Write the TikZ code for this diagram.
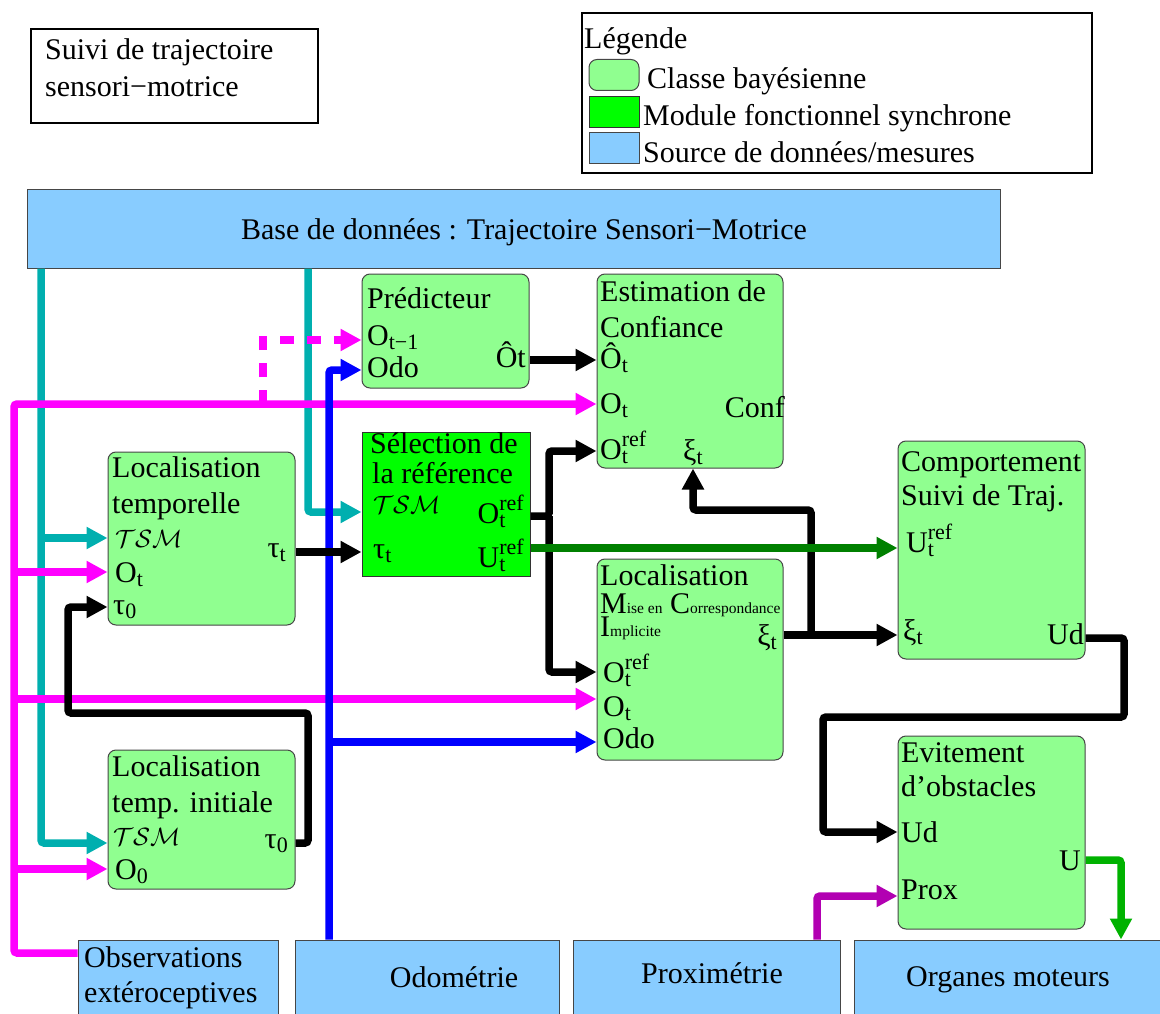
\documentclass[tikz,border=0pt]{standalone}
\usepackage{fix-cm}
\usepackage{fontspec}
\setmainfont{Liberation Serif}
\usetikzlibrary{arrows.meta}
\definecolor{baygreen}{RGB}{144,255,144}
\definecolor{syngreen}{RGB}{0,255,0}
\definecolor{srcblue}{RGB}{136,204,255}
\definecolor{boxline}{RGB}{70,70,70}
\definecolor{tealc}{RGB}{0,175,175}
\definecolor{magc}{RGB}{255,0,255}
\definecolor{bluec}{RGB}{0,0,255}
\definecolor{dgreenc}{RGB}{0,128,0}
\definecolor{greenc}{RGB}{0,178,0}
\definecolor{purpc}{RGB}{178,0,178}
\newcommand\sbx[1]{\raisebox{-4pt}{\fontsize{22}{22}\selectfont #1}}
\newcommand\sbsup[2]{\rlap{\raisebox{-4pt}{\fontsize{22}{22}\selectfont #1}}\raisebox{13pt}{\fontsize{22}{22}\selectfont #2}}
\newcommand\smallc[1]{{\fontsize{15.5}{16}\selectfont #1}}
\newcommand\tsm{{\fontsize{25}{25}\selectfont$\mathcal{TSM}$}}
\begin{document}
\begin{tikzpicture}[x=1pt,y=-1pt,
  font=\fontsize{30}{36}\selectfont,
  bay/.style={draw=boxline, fill=baygreen, rounded corners=8pt, line width=1pt, inner sep=0},
  syn/.style={draw=black!80, fill=syngreen, line width=1pt, inner sep=0},
  src/.style={draw=boxline, fill=srcblue, line width=1pt, inner sep=0},
  frm/.style={draw=black, line width=1.3pt, inner sep=0},
  lab/.style={inner sep=0, anchor=base west},
  labe/.style={inner sep=0, anchor=base east},
  labc/.style={inner sep=0, anchor=base},
  wire/.style={line width=7.5pt, rounded corners=3pt, -{Triangle[length=21pt,width=21pt]}}]
\useasboundingbox (0,0) rectangle (1160,1014);

% ---- title box and legend
\node[frm, minimum width=287pt, minimum height=94pt] (suivi) at (174.5,76) {};
\node[lab] (suivi1) at (45,60) {Suivi de trajectoire};
\node[lab] (suivi2) at (45,97) {sensori−motrice};

\node[frm, minimum width=510pt, minimum height=160pt] (leg) at (837,93) {};
\node[lab] (legt) at (584,49) {Légende};
\node[bay, minimum width=50pt, minimum height=31pt] (lg1) at (614,75) {};
\node[syn, minimum width=50pt, minimum height=31pt] (lg2) at (614,112) {};
\node[src, minimum width=50pt, minimum height=31pt] (lg3) at (614,148) {};
\node[lab] (lgt1) at (647,89) {Classe bayésienne};
\node[lab] (lgt2) at (643,126) {Module fonctionnel synchrone};
\node[lab] (lgt3) at (643,163) {Source de données/mesures};

% ---- boxes
\node[src, minimum width=973pt, minimum height=78pt] (base) at (513.5,229) {};
\node[labc] (baset) at (524,240) {Base de données : Trajectoire Sensori−Motrice};

\node[bay, minimum width=167pt, minimum height=114pt] (pred) at (445.5,331) {};
\node[bay, minimum width=186pt, minimum height=194pt] (est) at (690,371) {};
\node[syn, minimum width=168pt, minimum height=144pt] (sel) at (446,504) {};
\node[bay, minimum width=187pt, minimum height=173pt] (lt) at (201.5,538.5) {};
\node[bay, minimum width=187pt, minimum height=218pt] (comp) at (991.5,550) {};
\node[bay, minimum width=186pt, minimum height=201pt] (mci) at (690,659.5) {};
\node[bay, minimum width=187pt, minimum height=193pt] (evit) at (991.5,832.5) {};
\node[bay, minimum width=187pt, minimum height=139pt] (lti) at (201.5,819.5) {};

\node[src, minimum width=200pt, minimum height=100pt] (obs) at (178,990) {};
\node[src, minimum width=264pt, minimum height=100pt] (odo) at (427,990) {};
\node[src, minimum width=267pt, minimum height=100pt] (prox) at (706.5,990) {};
\node[src, minimum width=321pt, minimum height=100pt] (org) at (1014.5,990) {};

% ---- texts
\node[lab] (predt1) at (367,308) {Prédicteur};
\node[lab] (predt2) at (367,345) {O\sbx{t−1}};
\node[lab] (predt3) at (367,377) {Odo};
\node[labe] (predt4) at (526,367) {Ôt};

\node[lab] (estt1) at (600,301) {Estimation de};
\node[lab] (estt2) at (600,337) {Confiance};
\node[lab] (estt3) at (600,368) {Ô\sbx{t}};
\node[lab] (estt4) at (600,413) {O\sbx{t}};
\node[labe] (estt5) at (785,417) {Conf};
\node[lab] (estt6) at (600,459) {O\sbsup{t}{ref}};
\node[lab] (estt7) at (683,460) {ξ\sbx{t}};

\node[lab] (selt1) at (370,453) {Sélection de};
\node[lab] (selt2) at (372,483) {la référence};
\node[lab] (selt3) at (373,513) {\tsm};
\node[labe] (selt4) at (524,523) {O\sbsup{t}{ref}};
\node[lab] (selt5) at (373,558) {τ\sbx{t}};
\node[labe] (selt6) at (524,567) {U\sbsup{t}{ref}};

\node[lab] (ltt1) at (112,477) {Localisation};
\node[lab] (ltt2) at (112,513) {temporelle};
\node[lab] (ltt3) at (115,547) {\tsm};
\node[labe] (ltt4) at (286,557) {τ\sbx{t}};
\node[lab] (ltt5) at (115,582) {O\sbx{t}};
\node[lab] (ltt6) at (113,614) {τ\sbx{0}};

\node[lab] (ltit1) at (112,776) {Localisation};
\node[lab] (ltit2) at (112,812) {temp. initiale};
\node[lab] (ltit3) at (113,845) {\tsm};
\node[labe] (ltit4) at (288,848) {τ\sbx{0}};
\node[lab] (ltit5) at (115,879) {O\sbx{0}};

\node[lab] (compt1) at (901,471) {Comportement};
\node[lab] (compt2) at (901,505) {Suivi de Traj.};
\node[lab] (compt3) at (906,552) {U\sbsup{t}{ref}};
\node[lab] (compt4) at (903,640) {ξ\sbx{t}};
\node[labe] (compt5) at (1084,644) {Ud};

\node[lab] (mcit1) at (600,585) {Localisation};
\node[lab] (mcit2) at (600,613) {M\smallc{ise en} C\smallc{orrespondance}};
\node[lab] (mcit3) at (600,636) {I\smallc{mplicite}};
\node[labe] (mcit4) at (777,645) {ξ\sbx{t}};
\node[lab] (mcit5) at (603,682) {O\sbsup{t}{ref}};
\node[lab] (mcit6) at (603,716) {O\sbx{t}};
\node[lab] (mcit7) at (603,748) {Odo};

\node[lab] (evt1) at (901,762) {Evitement};
\node[lab] (evt2) at (901,796) {d’obstacles};
\node[lab] (evt3) at (901,842) {Ud};
\node[labe] (evt4) at (1081,870) {U};
\node[lab] (evt5) at (901,899) {Prox};

\node[lab] (obst1) at (84,967) {Observations};
\node[lab] (obst2) at (84,1002) {extéroceptives};
\node[labc] (odot) at (454,987) {Odométrie};
\node[labc] (proxt) at (712,983) {Proximétrie};
\node[labc] (orgt) at (1008,986) {Organes moteurs};

% ---- connectors: teal
\draw[wire, tealc] (base.south -| 41,0) -- (41,843) -- (lti.west |- 0,843);
\draw[wire, tealc] (41,538) -- (lt.west |- 0,538);
\draw[wire, tealc] (base.south -| 308,0) |- (sel.west |- 0,512);

% ---- magenta
\draw[wire, magc] (obs.west |- 0,953) -| (14,404) -- (est.west |- 0,404);
\draw[wire, magc] (14,572) -- (lt.west |- 0,572);
\draw[wire, magc] (14,699) -- (mci.west |- 0,699);
\draw[wire, magc] (14,869) -- (lti.west |- 0,869);
\draw[wire, magc, dash pattern=on 14pt off 13pt, rounded corners=0pt] (263,404) |- (pred.west |- 0,340);

% ---- blue
\draw[wire, bluec] (odo.north -| 329,0) |- (pred.west |- 0,370);
\draw[wire, bluec] (329,742) -- (mci.west |- 0,742);

% ---- black
\draw[wire, black] (pred.east |- 0,360) -- (est.west |- 0,360);
\draw[wire, black] (lt.east |- 0,552) -- (sel.west |- 0,552);
\draw[wire, black] (sel.east |- 0,516) -| (549,451) -- (est.west |- 0,451);
\draw[wire, black] (549,516) |- (mci.west |- 0,672);
\draw[wire, black] (mci.east |- 0,635) -- (comp.west |- 0,635);
\draw[wire, black] (811,635) |- (693,510) -- (est.south -| 693,0);
\draw[wire, black] (lti.east |- 0,843) -| (308,713) -| (68,607) -- (lt.west |- 0,607);
\draw[wire, black] (comp.east |- 0,638) -| (1124,717) -| (823,832) -- (evit.west |- 0,832);

% ---- greens and purple
\draw[wire, dgreenc] (sel.east |- 0,548) -- (comp.west |- 0,548);
\draw[wire, greenc] (evit.east |- 0,860) -| (org.north -| 1121,0);
\draw[wire, purpc] (prox.north -| 817,0) |- (evit.west |- 0,896);
\end{tikzpicture}
\end{document}
